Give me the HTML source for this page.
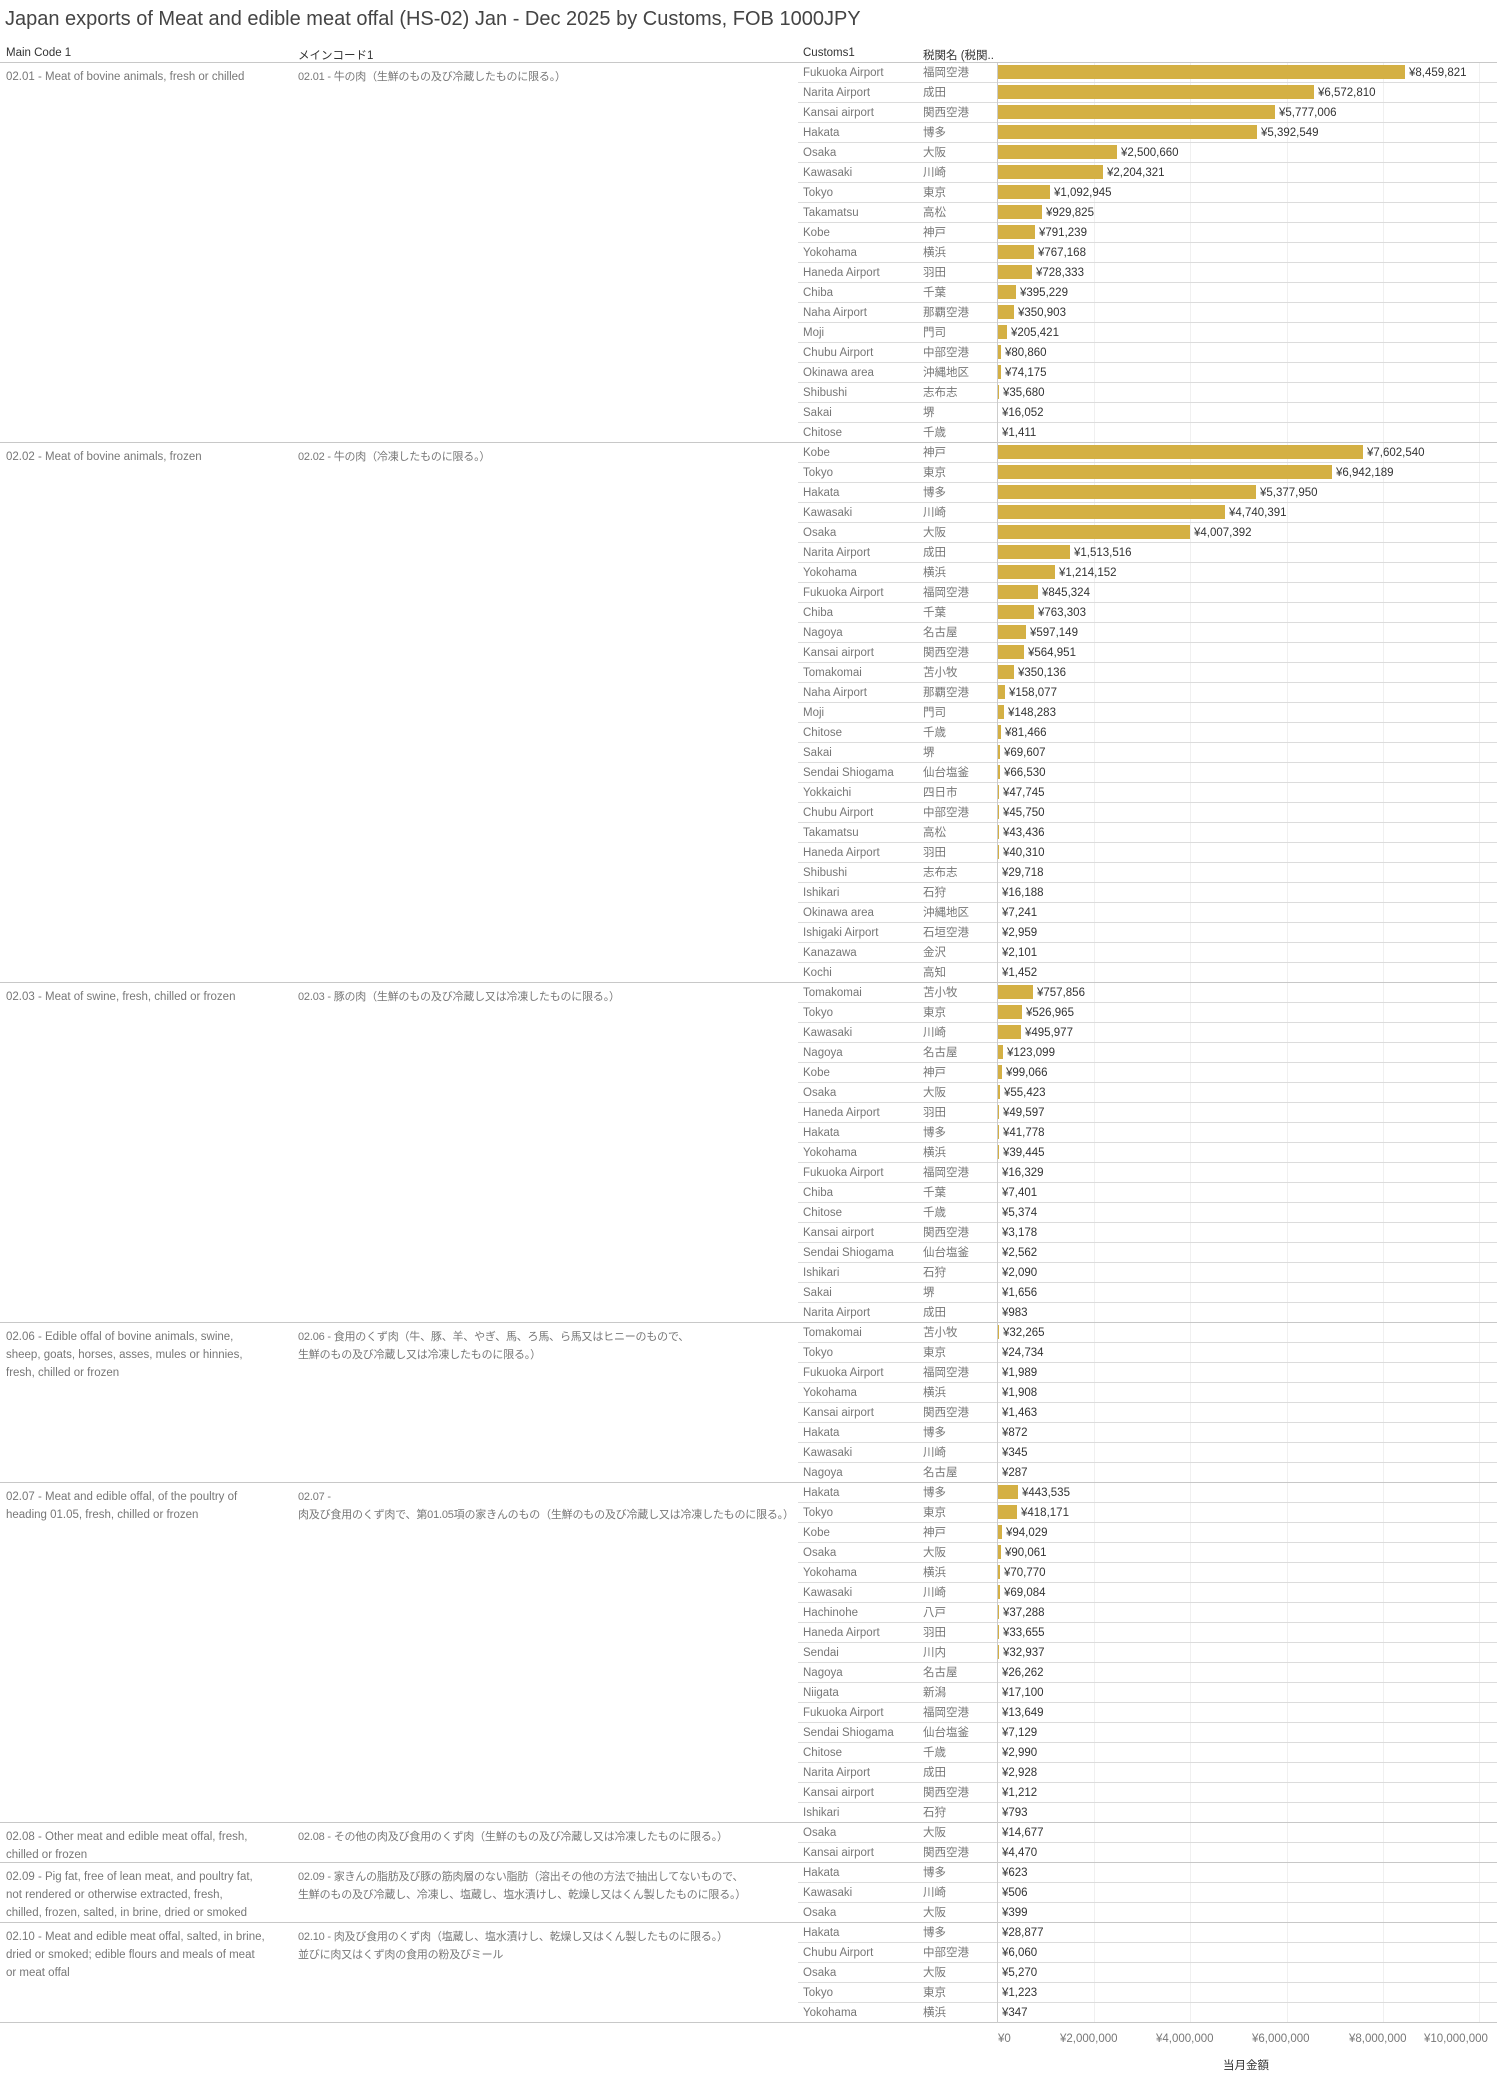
<!DOCTYPE html>
<html><head><meta charset="utf-8"><style>
body{margin:0;width:1500px;height:2081px;background:#fff;font-family:"Liberation Sans","Noto Sans CJK JP",sans-serif;position:relative;overflow:hidden}
.t{position:absolute;left:5px;top:8px;font-size:20px;color:#444}
.h{position:absolute;top:47px;font-size:11.5px;color:#333}
#tb{position:absolute;left:0;top:62px;width:1497px}
.sec{position:relative;border-bottom:1px solid #c8c8c8}
.sec:first-child{border-top:1px solid #c8c8c8}
.m,.j{position:absolute;top:5px;font-size:11.5px;color:#777;line-height:18px}
.m{left:6px;width:285px}.j{left:298px;font-size:11px;letter-spacing:-0.2px}
.rows{margin-left:798px}
.row{height:19px;border-top:1px solid #dcdcdc;position:relative;font-size:11.5px;line-height:20px}
.row:first-child{border-top:none}
.c{position:absolute;left:5px;color:#777}
.k{position:absolute;left:125px;color:#777}
.row b{position:absolute;left:199px;top:2px;height:14px;background:#d4b044;min-width:1px}
.row i{position:absolute;font-style:normal;color:#333}
#ax{position:absolute;left:997px;top:63px;width:1px;height:1960px;background:#ccc}
.g{position:absolute;top:63px;width:1px;height:1960px;background:#f0f0f0}
.tk{position:absolute;top:2033px;font-size:11.5px;color:#777}
</style></head><body>
<div class="t">Japan exports of Meat and edible meat offal (HS-02) Jan - Dec 2025 by Customs, FOB 1000JPY</div>
<div class="h" style="left:6px">Main Code 1</div>
<div class="h" style="left:298px">メインコード1</div>
<div class="h" style="left:803px">Customs1</div>
<div class="h" style="left:923px">税関名 (税関..</div>
<div class="g" style="left:1094px"></div><div class="g" style="left:1190px"></div><div class="g" style="left:1287px"></div><div class="g" style="left:1383px"></div><div class="g" style="left:1479px"></div>
<div id="tb">
<div class="sec"><div class="m">02.01 - Meat of bovine animals, fresh or chilled</div><div class="j">02.01 - 牛の肉（生鮮のもの及び冷蔵したものに限る。）</div><div class="rows">
<div class="row"><span class="c">Fukuoka Airport</span><span class="k">福岡空港</span><b style="width:408px"></b><i style="left:611px">¥8,459,821</i></div>
<div class="row"><span class="c">Narita Airport</span><span class="k">成田</span><b style="width:317px"></b><i style="left:520px">¥6,572,810</i></div>
<div class="row"><span class="c">Kansai airport</span><span class="k">関西空港</span><b style="width:278px"></b><i style="left:481px">¥5,777,006</i></div>
<div class="row"><span class="c">Hakata</span><span class="k">博多</span><b style="width:260px"></b><i style="left:463px">¥5,392,549</i></div>
<div class="row"><span class="c">Osaka</span><span class="k">大阪</span><b style="width:120px"></b><i style="left:323px">¥2,500,660</i></div>
<div class="row"><span class="c">Kawasaki</span><span class="k">川崎</span><b style="width:106px"></b><i style="left:309px">¥2,204,321</i></div>
<div class="row"><span class="c">Tokyo</span><span class="k">東京</span><b style="width:53px"></b><i style="left:256px">¥1,092,945</i></div>
<div class="row"><span class="c">Takamatsu</span><span class="k">高松</span><b style="width:45px"></b><i style="left:248px">¥929,825</i></div>
<div class="row"><span class="c">Kobe</span><span class="k">神戸</span><b style="width:38px"></b><i style="left:241px">¥791,239</i></div>
<div class="row"><span class="c">Yokohama</span><span class="k">横浜</span><b style="width:37px"></b><i style="left:240px">¥767,168</i></div>
<div class="row"><span class="c">Haneda Airport</span><span class="k">羽田</span><b style="width:35px"></b><i style="left:238px">¥728,333</i></div>
<div class="row"><span class="c">Chiba</span><span class="k">千葉</span><b style="width:19px"></b><i style="left:222px">¥395,229</i></div>
<div class="row"><span class="c">Naha Airport</span><span class="k">那覇空港</span><b style="width:17px"></b><i style="left:220px">¥350,903</i></div>
<div class="row"><span class="c">Moji</span><span class="k">門司</span><b style="width:10px"></b><i style="left:213px">¥205,421</i></div>
<div class="row"><span class="c">Chubu Airport</span><span class="k">中部空港</span><b style="width:4px"></b><i style="left:207px">¥80,860</i></div>
<div class="row"><span class="c">Okinawa area</span><span class="k">沖縄地区</span><b style="width:4px"></b><i style="left:207px">¥74,175</i></div>
<div class="row"><span class="c">Shibushi</span><span class="k">志布志</span><b style="width:2px"></b><i style="left:205px">¥35,680</i></div>
<div class="row"><span class="c">Sakai</span><span class="k">堺</span><b></b><i style="left:204px">¥16,052</i></div>
<div class="row"><span class="c">Chitose</span><span class="k">千歳</span><b></b><i style="left:204px">¥1,411</i></div>
</div></div>
<div class="sec"><div class="m">02.02 - Meat of bovine animals, frozen</div><div class="j">02.02 - 牛の肉（冷凍したものに限る。）</div><div class="rows">
<div class="row"><span class="c">Kobe</span><span class="k">神戸</span><b style="width:366px"></b><i style="left:569px">¥7,602,540</i></div>
<div class="row"><span class="c">Tokyo</span><span class="k">東京</span><b style="width:335px"></b><i style="left:538px">¥6,942,189</i></div>
<div class="row"><span class="c">Hakata</span><span class="k">博多</span><b style="width:259px"></b><i style="left:462px">¥5,377,950</i></div>
<div class="row"><span class="c">Kawasaki</span><span class="k">川崎</span><b style="width:228px"></b><i style="left:431px">¥4,740,391</i></div>
<div class="row"><span class="c">Osaka</span><span class="k">大阪</span><b style="width:193px"></b><i style="left:396px">¥4,007,392</i></div>
<div class="row"><span class="c">Narita Airport</span><span class="k">成田</span><b style="width:73px"></b><i style="left:276px">¥1,513,516</i></div>
<div class="row"><span class="c">Yokohama</span><span class="k">横浜</span><b style="width:58px"></b><i style="left:261px">¥1,214,152</i></div>
<div class="row"><span class="c">Fukuoka Airport</span><span class="k">福岡空港</span><b style="width:41px"></b><i style="left:244px">¥845,324</i></div>
<div class="row"><span class="c">Chiba</span><span class="k">千葉</span><b style="width:37px"></b><i style="left:240px">¥763,303</i></div>
<div class="row"><span class="c">Nagoya</span><span class="k">名古屋</span><b style="width:29px"></b><i style="left:232px">¥597,149</i></div>
<div class="row"><span class="c">Kansai airport</span><span class="k">関西空港</span><b style="width:27px"></b><i style="left:230px">¥564,951</i></div>
<div class="row"><span class="c">Tomakomai</span><span class="k">苫小牧</span><b style="width:17px"></b><i style="left:220px">¥350,136</i></div>
<div class="row"><span class="c">Naha Airport</span><span class="k">那覇空港</span><b style="width:8px"></b><i style="left:211px">¥158,077</i></div>
<div class="row"><span class="c">Moji</span><span class="k">門司</span><b style="width:7px"></b><i style="left:210px">¥148,283</i></div>
<div class="row"><span class="c">Chitose</span><span class="k">千歳</span><b style="width:4px"></b><i style="left:207px">¥81,466</i></div>
<div class="row"><span class="c">Sakai</span><span class="k">堺</span><b style="width:3px"></b><i style="left:206px">¥69,607</i></div>
<div class="row"><span class="c">Sendai Shiogama</span><span class="k">仙台塩釜</span><b style="width:3px"></b><i style="left:206px">¥66,530</i></div>
<div class="row"><span class="c">Yokkaichi</span><span class="k">四日市</span><b style="width:2px"></b><i style="left:205px">¥47,745</i></div>
<div class="row"><span class="c">Chubu Airport</span><span class="k">中部空港</span><b style="width:2px"></b><i style="left:205px">¥45,750</i></div>
<div class="row"><span class="c">Takamatsu</span><span class="k">高松</span><b style="width:2px"></b><i style="left:205px">¥43,436</i></div>
<div class="row"><span class="c">Haneda Airport</span><span class="k">羽田</span><b style="width:2px"></b><i style="left:205px">¥40,310</i></div>
<div class="row"><span class="c">Shibushi</span><span class="k">志布志</span><b></b><i style="left:204px">¥29,718</i></div>
<div class="row"><span class="c">Ishikari</span><span class="k">石狩</span><b></b><i style="left:204px">¥16,188</i></div>
<div class="row"><span class="c">Okinawa area</span><span class="k">沖縄地区</span><b></b><i style="left:204px">¥7,241</i></div>
<div class="row"><span class="c">Ishigaki Airport</span><span class="k">石垣空港</span><b></b><i style="left:204px">¥2,959</i></div>
<div class="row"><span class="c">Kanazawa</span><span class="k">金沢</span><b></b><i style="left:204px">¥2,101</i></div>
<div class="row"><span class="c">Kochi</span><span class="k">高知</span><b></b><i style="left:204px">¥1,452</i></div>
</div></div>
<div class="sec"><div class="m">02.03 - Meat of swine, fresh, chilled or frozen</div><div class="j">02.03 - 豚の肉（生鮮のもの及び冷蔵し又は冷凍したものに限る。）</div><div class="rows">
<div class="row"><span class="c">Tomakomai</span><span class="k">苫小牧</span><b style="width:36px"></b><i style="left:239px">¥757,856</i></div>
<div class="row"><span class="c">Tokyo</span><span class="k">東京</span><b style="width:25px"></b><i style="left:228px">¥526,965</i></div>
<div class="row"><span class="c">Kawasaki</span><span class="k">川崎</span><b style="width:24px"></b><i style="left:227px">¥495,977</i></div>
<div class="row"><span class="c">Nagoya</span><span class="k">名古屋</span><b style="width:6px"></b><i style="left:209px">¥123,099</i></div>
<div class="row"><span class="c">Kobe</span><span class="k">神戸</span><b style="width:5px"></b><i style="left:208px">¥99,066</i></div>
<div class="row"><span class="c">Osaka</span><span class="k">大阪</span><b style="width:3px"></b><i style="left:206px">¥55,423</i></div>
<div class="row"><span class="c">Haneda Airport</span><span class="k">羽田</span><b style="width:2px"></b><i style="left:205px">¥49,597</i></div>
<div class="row"><span class="c">Hakata</span><span class="k">博多</span><b style="width:2px"></b><i style="left:205px">¥41,778</i></div>
<div class="row"><span class="c">Yokohama</span><span class="k">横浜</span><b style="width:2px"></b><i style="left:205px">¥39,445</i></div>
<div class="row"><span class="c">Fukuoka Airport</span><span class="k">福岡空港</span><b></b><i style="left:204px">¥16,329</i></div>
<div class="row"><span class="c">Chiba</span><span class="k">千葉</span><b></b><i style="left:204px">¥7,401</i></div>
<div class="row"><span class="c">Chitose</span><span class="k">千歳</span><b></b><i style="left:204px">¥5,374</i></div>
<div class="row"><span class="c">Kansai airport</span><span class="k">関西空港</span><b></b><i style="left:204px">¥3,178</i></div>
<div class="row"><span class="c">Sendai Shiogama</span><span class="k">仙台塩釜</span><b></b><i style="left:204px">¥2,562</i></div>
<div class="row"><span class="c">Ishikari</span><span class="k">石狩</span><b></b><i style="left:204px">¥2,090</i></div>
<div class="row"><span class="c">Sakai</span><span class="k">堺</span><b></b><i style="left:204px">¥1,656</i></div>
<div class="row"><span class="c">Narita Airport</span><span class="k">成田</span><b></b><i style="left:204px">¥983</i></div>
</div></div>
<div class="sec"><div class="m">02.06 - Edible offal of bovine animals, swine,<br>sheep, goats, horses, asses, mules or hinnies,<br>fresh, chilled or frozen</div><div class="j">02.06 - 食用のくず肉（牛、豚、羊、やぎ、馬、ろ馬、ら馬又はヒニーのもので、<br>生鮮のもの及び冷蔵し又は冷凍したものに限る。）</div><div class="rows">
<div class="row"><span class="c">Tomakomai</span><span class="k">苫小牧</span><b style="width:2px"></b><i style="left:205px">¥32,265</i></div>
<div class="row"><span class="c">Tokyo</span><span class="k">東京</span><b></b><i style="left:204px">¥24,734</i></div>
<div class="row"><span class="c">Fukuoka Airport</span><span class="k">福岡空港</span><b></b><i style="left:204px">¥1,989</i></div>
<div class="row"><span class="c">Yokohama</span><span class="k">横浜</span><b></b><i style="left:204px">¥1,908</i></div>
<div class="row"><span class="c">Kansai airport</span><span class="k">関西空港</span><b></b><i style="left:204px">¥1,463</i></div>
<div class="row"><span class="c">Hakata</span><span class="k">博多</span><b></b><i style="left:204px">¥872</i></div>
<div class="row"><span class="c">Kawasaki</span><span class="k">川崎</span><b></b><i style="left:204px">¥345</i></div>
<div class="row"><span class="c">Nagoya</span><span class="k">名古屋</span><b></b><i style="left:204px">¥287</i></div>
</div></div>
<div class="sec"><div class="m">02.07 - Meat and edible offal, of the poultry of<br>heading 01.05, fresh, chilled or frozen</div><div class="j">02.07 -<br>肉及び食用のくず肉で、第01.05項の家きんのもの（生鮮のもの及び冷蔵し又は冷凍したものに限る。）</div><div class="rows">
<div class="row"><span class="c">Hakata</span><span class="k">博多</span><b style="width:21px"></b><i style="left:224px">¥443,535</i></div>
<div class="row"><span class="c">Tokyo</span><span class="k">東京</span><b style="width:20px"></b><i style="left:223px">¥418,171</i></div>
<div class="row"><span class="c">Kobe</span><span class="k">神戸</span><b style="width:5px"></b><i style="left:208px">¥94,029</i></div>
<div class="row"><span class="c">Osaka</span><span class="k">大阪</span><b style="width:4px"></b><i style="left:207px">¥90,061</i></div>
<div class="row"><span class="c">Yokohama</span><span class="k">横浜</span><b style="width:3px"></b><i style="left:206px">¥70,770</i></div>
<div class="row"><span class="c">Kawasaki</span><span class="k">川崎</span><b style="width:3px"></b><i style="left:206px">¥69,084</i></div>
<div class="row"><span class="c">Hachinohe</span><span class="k">八戸</span><b style="width:2px"></b><i style="left:205px">¥37,288</i></div>
<div class="row"><span class="c">Haneda Airport</span><span class="k">羽田</span><b style="width:2px"></b><i style="left:205px">¥33,655</i></div>
<div class="row"><span class="c">Sendai</span><span class="k">川内</span><b style="width:2px"></b><i style="left:205px">¥32,937</i></div>
<div class="row"><span class="c">Nagoya</span><span class="k">名古屋</span><b></b><i style="left:204px">¥26,262</i></div>
<div class="row"><span class="c">Niigata</span><span class="k">新潟</span><b></b><i style="left:204px">¥17,100</i></div>
<div class="row"><span class="c">Fukuoka Airport</span><span class="k">福岡空港</span><b></b><i style="left:204px">¥13,649</i></div>
<div class="row"><span class="c">Sendai Shiogama</span><span class="k">仙台塩釜</span><b></b><i style="left:204px">¥7,129</i></div>
<div class="row"><span class="c">Chitose</span><span class="k">千歳</span><b></b><i style="left:204px">¥2,990</i></div>
<div class="row"><span class="c">Narita Airport</span><span class="k">成田</span><b></b><i style="left:204px">¥2,928</i></div>
<div class="row"><span class="c">Kansai airport</span><span class="k">関西空港</span><b></b><i style="left:204px">¥1,212</i></div>
<div class="row"><span class="c">Ishikari</span><span class="k">石狩</span><b></b><i style="left:204px">¥793</i></div>
</div></div>
<div class="sec"><div class="m">02.08 - Other meat and edible meat offal, fresh,<br>chilled or frozen</div><div class="j">02.08 - その他の肉及び食用のくず肉（生鮮のもの及び冷蔵し又は冷凍したものに限る。）</div><div class="rows">
<div class="row"><span class="c">Osaka</span><span class="k">大阪</span><b></b><i style="left:204px">¥14,677</i></div>
<div class="row"><span class="c">Kansai airport</span><span class="k">関西空港</span><b></b><i style="left:204px">¥4,470</i></div>
</div></div>
<div class="sec"><div class="m">02.09 - Pig fat, free of lean meat, and poultry fat,<br>not rendered or otherwise extracted, fresh,<br>chilled, frozen, salted, in brine, dried or smoked</div><div class="j">02.09 - 家きんの脂肪及び豚の筋肉層のない脂肪（溶出その他の方法で抽出してないもので、<br>生鮮のもの及び冷蔵し、冷凍し、塩蔵し、塩水漬けし、乾燥し又はくん製したものに限る。）</div><div class="rows">
<div class="row"><span class="c">Hakata</span><span class="k">博多</span><b></b><i style="left:204px">¥623</i></div>
<div class="row"><span class="c">Kawasaki</span><span class="k">川崎</span><b></b><i style="left:204px">¥506</i></div>
<div class="row"><span class="c">Osaka</span><span class="k">大阪</span><b></b><i style="left:204px">¥399</i></div>
</div></div>
<div class="sec"><div class="m">02.10 - Meat and edible meat offal, salted, in brine,<br>dried or smoked; edible flours and meals of meat<br>or meat offal</div><div class="j">02.10 - 肉及び食用のくず肉（塩蔵し、塩水漬けし、乾燥し又はくん製したものに限る。）<br>並びに肉又はくず肉の食用の粉及びミール</div><div class="rows">
<div class="row"><span class="c">Hakata</span><span class="k">博多</span><b style="width:1.4px"></b><i style="left:204px">¥28,877</i></div>
<div class="row"><span class="c">Chubu Airport</span><span class="k">中部空港</span><b></b><i style="left:204px">¥6,060</i></div>
<div class="row"><span class="c">Osaka</span><span class="k">大阪</span><b></b><i style="left:204px">¥5,270</i></div>
<div class="row"><span class="c">Tokyo</span><span class="k">東京</span><b></b><i style="left:204px">¥1,223</i></div>
<div class="row"><span class="c">Yokohama</span><span class="k">横浜</span><b></b><i style="left:204px">¥347</i></div>
</div></div>
</div>
<div id="ax"></div>
<div class="tk" style="left:998px">¥0</div>
<div class="tk" style="left:1060px">¥2,000,000</div>
<div class="tk" style="left:1156px">¥4,000,000</div>
<div class="tk" style="left:1252px">¥6,000,000</div>
<div class="tk" style="left:1349px">¥8,000,000</div>
<div class="tk" style="left:1424px">¥10,000,000</div>
<div class="tk" style="left:1223px;top:2057px;color:#333">当月金額</div>
</body></html>
